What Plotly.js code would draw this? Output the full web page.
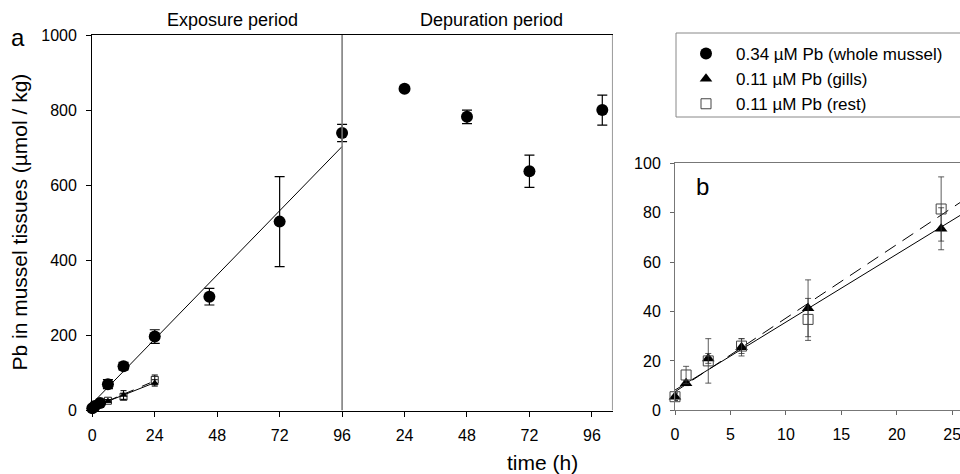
<!DOCTYPE html>
<html>
<head>
<meta charset="utf-8">
<script src="https://cdn.plot.ly/plotly-3.0.1.min.js"></script>
<style>html,body{margin:0;padding:0;background:#fff;}#chart{width:960px;height:474px;}</style>
</head>
<body>
<div id="chart"></div>
<script>
// ---- data ----
const expTime      = [0, 1, 3, 6, 12, 24, 45, 72, 96];
const wholeExp     = [6, 12, 20, 70, 118, 197, 303, 503, 739];
const wholeExpErr  = [3, 3, 4, 12, 10, 18, 22, 120, 23];

const exposureLength = 96;
const depTime      = [24, 48, 72, 100];
const wholeDep     = [857, 782, 637, 800];
const wholeDepErr  = [6, 18, 43, 40];

const organTime    = [0, 1, 3, 6, 12, 24];
const gills        = [5.5, 11, 21, 25.5, 41.3, 73.5];
const gillsErr     = [1.5, 1, 2, 3.5, 11.5, 8.5];
const rest         = [5.5, 14.3, 20, 26, 36.8, 81.5];
const restErr      = [1.5, 3.5, 9, 3, 8.5, 13];

const fitWholeX    = [0, 96];
const fitWholeY    = [19, 703];
const fitGillsX    = [0, 24];
const fitGillsY    = [8.2, 74.2];
const fitRestX     = [0, 24];
const fitRestY     = [7.5, 79];
const fitGillsBX   = [0, 26];
const fitGillsBY   = [8.2, 79.7];
const fitRestBX    = [0, 26];
const fitRestBY    = [7.5, 85];

const xTickVals  = [0, 24, 48, 72, 96, 120, 144, 168, 192];
const xTickText  = ['0', '24', '48', '72', '96', '24', '48', '72', '96'];

const legendNames = ['0.34 µM Pb (whole mussel)', '0.11 µM Pb (gills)', '0.11 µM Pb (rest)'];

// ---- traces ----
const depX = depTime.map(t => t + exposureLength);
const FONT = 'Liberation Sans, Arial, sans-serif';

const traces = [
  // panel a fits
  {x: fitWholeX, y: fitWholeY, mode: 'lines', line: {color: '#000', width: 1}, showlegend: false, xaxis: 'x', yaxis: 'y', hoverinfo: 'skip'},
  {x: fitGillsX, y: fitGillsY, mode: 'lines', line: {color: '#000', width: 1}, showlegend: false, xaxis: 'x', yaxis: 'y', hoverinfo: 'skip'},
  {x: fitRestX, y: fitRestY, mode: 'lines', line: {color: '#000', width: 1, dash: 'dash'}, showlegend: false, xaxis: 'x', yaxis: 'y', hoverinfo: 'skip'},
  // panel a organ data
  {x: organTime, y: rest, mode: 'markers', showlegend: false, xaxis: 'x', yaxis: 'y', cliponaxis: false,
   marker: {symbol: 'square-open', size: 7, color: '#222', line: {width: 1}},
   error_y: {type: 'data', array: restErr, color: '#000', thickness: 1, width: 3}},
  {x: organTime, y: gills, mode: 'markers', showlegend: false, xaxis: 'x', yaxis: 'y', cliponaxis: false,
   marker: {symbol: 'triangle-up', size: 7, color: '#000'},
   error_y: {type: 'data', array: gillsErr, color: '#000', thickness: 1, width: 3}},
  // panel a whole mussel
  {x: expTime, y: wholeExp, mode: 'markers', name: legendNames[0], legendrank: 1, xaxis: 'x', yaxis: 'y', cliponaxis: false,
   marker: {symbol: 'circle', size: 12, color: '#000'},
   error_y: {type: 'data', array: wholeExpErr, color: '#000', thickness: 1.2, width: 5}},
  {x: depX, y: wholeDep, mode: 'markers', showlegend: false, xaxis: 'x', yaxis: 'y', cliponaxis: false,
   marker: {symbol: 'circle', size: 12, color: '#000'},
   error_y: {type: 'data', array: wholeDepErr, color: '#000', thickness: 1.2, width: 5}},
  // panel b fits
  {x: fitGillsBX, y: fitGillsBY, mode: 'lines', line: {color: '#000', width: 1}, showlegend: false, xaxis: 'x2', yaxis: 'y2', hoverinfo: 'skip'},
  {x: fitRestBX, y: fitRestBY, mode: 'lines', line: {color: '#000', width: 1, dash: '13px,8px'}, showlegend: false, xaxis: 'x2', yaxis: 'y2', hoverinfo: 'skip'},
  // panel b data
  {x: organTime, y: gills, mode: 'markers', name: legendNames[1], legendrank: 2, xaxis: 'x2', yaxis: 'y2', cliponaxis: false,
   marker: {symbol: 'triangle-up', size: 11, color: '#000'},
   error_y: {type: 'data', array: gillsErr, color: '#333', thickness: 0.8, width: 3}},
  {x: organTime, y: rest, mode: 'markers', name: legendNames[2], legendrank: 3, xaxis: 'x2', yaxis: 'y2', cliponaxis: false,
   marker: {symbol: 'square-open', size: 10, color: '#444', line: {width: 1}},
   error_y: {type: 'data', array: restErr, color: '#333', thickness: 0.8, width: 3}}
];

const W = 960, H = 474;
const px = v => v / W;
const py = v => (H - v) / H;

const ann = (text, x, y, size, extra) => Object.assign({
  text: text, xref: 'paper', yref: 'paper', x: px(x), y: py(y),
  xanchor: 'center', yanchor: 'middle', showarrow: false,
  font: {family: FONT, size: size, color: '#000'}
}, extra || {});

const layout = {
  width: W, height: H,
  margin: {l: 0, r: 0, t: 0, b: 0},
  paper_bgcolor: '#fff', plot_bgcolor: 'rgba(0,0,0,0)',
  font: {family: FONT, size: 16, color: '#000'},
  showlegend: true,
  legend: {
    x: px(676), y: py(36), xanchor: 'left', yanchor: 'top',
    bgcolor: 'rgba(0,0,0,0)', borderwidth: 0,
    itemwidth: 50, font: {family: FONT, size: 17, color: '#000'},
    traceorder: 'normal'
  },
  xaxis: {
    domain: [px(92.3), px(612.7)], range: [0, 200],
    tickvals: xTickVals, ticktext: xTickText,
    ticks: 'outside', ticklen: 5, tickcolor: '#000', tickwidth: 1,
    showline: true, linecolor: '#000', linewidth: 1.2, mirror: true,
    showgrid: false, zeroline: false, fixedrange: true,
    tickfont: {family: FONT, size: 16}, ticklabelstandoff: 5, anchor: 'y'
  },
  yaxis: {
    domain: [py(410.5), py(35)], range: [0, 1000], dtick: 200,
    ticks: 'outside', ticklen: 5, tickcolor: '#000', tickwidth: 1,
    showline: true, linecolor: '#000', linewidth: 1.2,
    showgrid: false, zeroline: false, fixedrange: true,
    tickfont: {family: FONT, size: 16}, ticklabelstandoff: 6, anchor: 'x'
  },
  xaxis2: {
    domain: [px(675), 1], range: [0, 25.7], dtick: 5,
    ticks: 'outside', ticklen: 4, tickcolor: '#666', tickwidth: 1,
    showline: true, linecolor: '#777', linewidth: 1, mirror: true,
    showgrid: false, zeroline: false, fixedrange: true, ticklabeloverflow: 'allow',
    tickfont: {family: FONT, size: 16}, ticklabelstandoff: 5, anchor: 'y2'
  },
  yaxis2: {
    domain: [py(410.3), py(163.3)], range: [0, 100], dtick: 20,
    ticks: 'outside', ticklen: 4, tickcolor: '#666', tickwidth: 1,
    showline: true, linecolor: '#777', linewidth: 1,
    showgrid: false, zeroline: false, fixedrange: true,
    tickfont: {family: FONT, size: 16}, ticklabelstandoff: 6, anchor: 'x2'
  },
  shapes: [
    {type: 'line', xref: 'x', yref: 'y', x0: 96, x1: 96, y0: 0, y1: 1000, line: {color: '#777', width: 1.5}},
    {type: 'line', xref: 'x', yref: 'y', x0: 200, x1: 200, y0: 0, y1: 1000, line: {color: '#777', width: 1.5}},
    {type: 'rect', xref: 'paper', yref: 'paper', x0: px(676), x1: px(963), y0: py(117), y1: py(33), line: {color: '#888', width: 1}, fillcolor: 'rgba(0,0,0,0)'}
  ],
  annotations: [
    ann('a', 18, 37, 24),
    ann('b', 702, 187, 24),
    ann('Exposure period', 232, 20, 18),
    ann('Depuration period', 492, 20, 18),
    ann('time (h)', 542, 462, 21),
    ann('Pb in mussel tissues (µmol / kg)', 19, 222.5, 21, {textangle: -90})
  ]
};

Plotly.newPlot('chart', traces, layout, {displayModeBar: false, staticPlot: true});
</script>
</body>
</html>
